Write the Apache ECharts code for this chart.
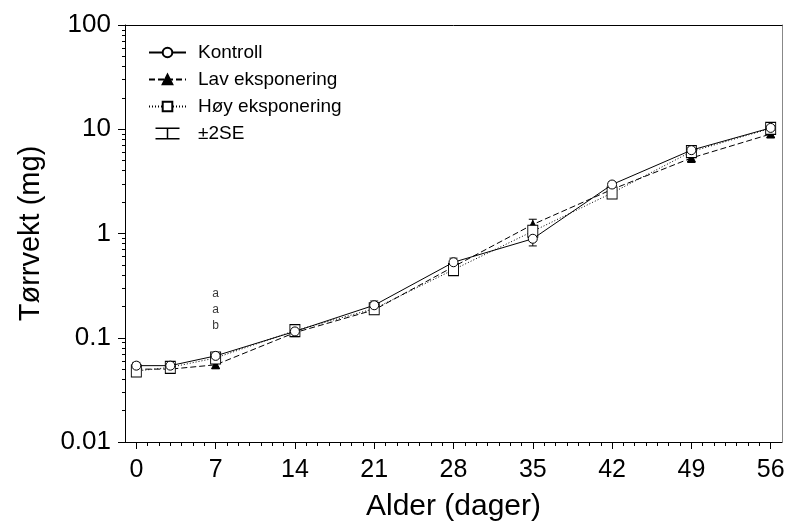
<!DOCTYPE html>
<html>
<head>
<meta charset="utf-8">
<script src="https://cdn.jsdelivr.net/npm/echarts@6/dist/echarts.min.js"></script>
<style>
  html, body { margin: 0; padding: 0; background: #fff; }
  #chart { width: 789px; height: 529px; }
</style>
</head>
<body>
<div id="chart"></div>
<script>
// alder i dager
const days = [0, 3, 7, 14, 21, 28, 35, 42, 49, 56];
// tørrvekt (mg), middelverdier
const kontroll = [0.054, 0.054, 0.067, 0.115, 0.205, 0.53, 0.89, 2.95, 6.3, 10.3];
const lav = [0.050, 0.050, 0.055, 0.112, 0.185, 0.48, 1.22, 2.65, 5.3, 9.0];
const hoy = [0.048, 0.052, 0.064, 0.117, 0.19, 0.45, 1.05, 2.45, 6.1, 10.2];
// ±2SE
const kontrollErr = [0.004, 0.003, 0.004, 0.006, 0.02, 0.05, 0.13, 0.2, 0.6, 0.9];
const lavErr = [0.003, 0.003, 0.004, 0.005, 0.012, 0.04, 0.15, 0.2, 0.5, 0.6];
const hoyErr = [0.004, 0.003, 0.004, 0.006, 0.015, 0.04, 0.12, 0.2, 0.6, 0.8];
// bokstaver ved dag 7
const letters = ['a', 'a', 'b'];
const letterPos = [[7, 0.266], [7, 0.187], [7, 0.131]];
// akser
const xMajor = [0, 7, 14, 21, 28, 35, 42, 49, 56];
const yMinorMult = [2, 3, 4, 5, 6, 7, 8, 9];

const xMinor = [];
for (let d = 0; d <= 56; d++) xMinor.push(d);
// minor-ticks på log-aksen, lagt på en lineær akse i log10-rom
const yMinorLog = [];
[-2, -1, 0, 1].forEach(e => yMinorMult.forEach(m => yMinorLog.push(e + Math.log10(m))));

const font = 'Liberation Sans, Arial, sans-serif';

function errorBars(mean, err) {
  return {
    name: '±2SE',
    type: 'custom',
    xAxisIndex: 0,
    yAxisIndex: 0,
    z: 1,
    itemStyle: { color: '#000' },
    encode: { x: 0, y: [1, 2] },
    data: days.map((d, i) => [d, mean[i] - err[i], mean[i] + err[i]]),
    renderItem: function (params, api) {
      const lo = api.coord([api.value(0), api.value(1)]);
      const hi = api.coord([api.value(0), api.value(2)]);
      const c = 4;
      const st = { stroke: '#000', lineWidth: 1 };
      return {
        type: 'group',
        children: [
          { type: 'line', shape: { x1: lo[0], y1: lo[1], x2: hi[0], y2: hi[1] }, style: st },
          { type: 'line', shape: { x1: lo[0] - c, y1: lo[1], x2: lo[0] + c, y2: lo[1] }, style: st },
          { type: 'line', shape: { x1: hi[0] - c, y1: hi[1], x2: hi[0] + c, y2: hi[1] }, style: st }
        ]
      };
    }
  };
}

const chart = echarts.init(document.getElementById('chart'));
const option = {
  animation: false,
  backgroundColor: '#fff',
  grid: { left: 125, right: 7, top: 25, bottom: 87, containLabel: false },
  legend: {
    orient: 'vertical',
    left: 143,
    top: 38,
    itemWidth: 37,
    itemHeight: 12,
    itemGap: 8,
    textStyle: { fontFamily: font, fontSize: 19, color: '#000', padding: [0, 0, 0, 7] },
    data: [
      'Kontroll',
      'Lav eksponering',
      'Høy eksponering',
      { name: '±2SE', icon: 'path://M0,0h16v1h-16zM7.5,0h1v8h-1zM0,7h16v1h-16z' }
    ]
  },
  xAxis: [
    {
      type: 'value', min: -1, max: 57,
      name: 'Alder (dager)', nameLocation: 'middle', nameGap: 50,
      nameTextStyle: { fontFamily: font, fontSize: 30, color: '#000' },
      axisLine: { onZero: false, lineStyle: { color: '#000' } },
      splitLine: { show: false },
      axisTick: { customValues: xMajor, length: 7, lineStyle: { color: '#000' } },
      axisLabel: { customValues: xMajor, margin: 16, fontFamily: font, fontSize: 25, color: '#000' }
    },
    {
      type: 'value', min: -1, max: 57, position: 'bottom',
      axisLine: { show: false, onZero: false },
      splitLine: { show: false },
      axisTick: { customValues: xMinor, length: 4, lineStyle: { color: '#000' } },
      axisLabel: { show: false }
    },
    {
      type: 'value', min: -1, max: 57, position: 'top',
      axisLine: { onZero: false, lineStyle: { color: '#000' } },
      splitLine: { show: false },
      axisTick: { show: false },
      axisLabel: { show: false }
    }
  ],
  yAxis: [
    {
      type: 'log', logBase: 10, min: 0.01, max: 100,
      name: 'Tørrvekt (mg)', nameLocation: 'middle', nameGap: 80,
      nameTextStyle: { fontFamily: font, fontSize: 29, color: '#000' },
      axisLine: { show: true, onZero: false, lineStyle: { color: '#000' } },
      splitLine: { show: false },
      axisTick: { length: 7, lineStyle: { color: '#000' } },
      axisLabel: { margin: 14, fontFamily: font, fontSize: 26, color: '#000' }
    },
    {
      type: 'value', min: -2, max: 2, position: 'left',
      axisLine: { show: false, onZero: false },
      splitLine: { show: false },
      axisTick: { customValues: yMinorLog, length: 3, lineStyle: { color: '#000' } },
      axisLabel: { show: false }
    },
    {
      type: 'log', logBase: 10, min: 0.01, max: 100, position: 'right',
      axisLine: { show: true, onZero: false, lineStyle: { color: '#888' } },
      splitLine: { show: false },
      axisTick: { show: false },
      axisLabel: { show: false }
    }
  ],
  series: [
    errorBars(kontroll, kontrollErr),
    errorBars(lav, lavErr),
    errorBars(hoy, hoyErr),
    {
      name: 'Kontroll', type: 'line', z: 4,
      data: days.map((d, i) => [d, kontroll[i]]),
      symbol: 'circle', symbolSize: 9,
      itemStyle: { color: '#fff', borderColor: '#000', borderWidth: 1 },
      lineStyle: { color: '#000', width: 1, type: 'solid' }
    },
    {
      name: 'Lav eksponering', type: 'line', z: 3,
      data: days.map((d, i) => [d, lav[i]]),
      symbol: 'triangle', symbolSize: 8,
      itemStyle: { color: '#000', borderColor: '#000', borderWidth: 1 },
      lineStyle: { color: '#000', width: 1, type: [6, 3] }
    },
    {
      name: 'Høy eksponering', type: 'line', z: 3,
      data: days.map((d, i) => [d, hoy[i]]),
      symbol: 'rect', symbolSize: [10, 12],
      itemStyle: { color: '#fff', borderColor: '#000', borderWidth: 1 },
      lineStyle: { color: '#000', width: 1, type: [1, 2] }
    },
    {
      name: 'letters', type: 'scatter', z: 5,
      data: letterPos,
      symbolSize: 0,
      silent: true,
      label: {
        show: true, position: 'inside',
        formatter: p => letters[p.dataIndex],
        fontFamily: font, fontSize: 12, color: '#000'
      }
    }
  ]
};
chart.setOption(option);
</script>
</body>
</html>
